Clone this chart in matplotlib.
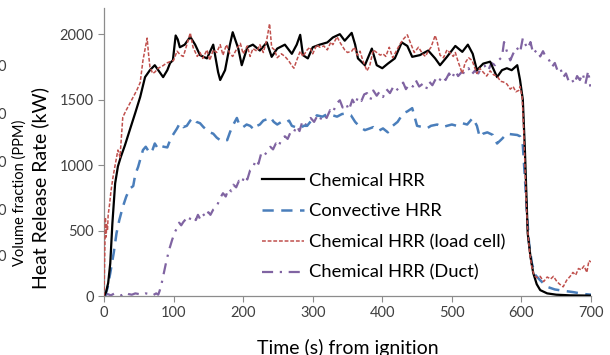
import matplotlib
matplotlib.use('Agg')
import matplotlib.pyplot as plt

# Chemical HRR (black)
t_chem = [0, 3, 6, 9, 12, 16, 20, 24, 30, 37, 45, 52, 59, 66, 73, 80, 85, 91, 95, 99,
          103, 106, 109, 116, 124, 131, 138, 148, 157, 164, 167, 174, 181, 185, 193, 198,
          206, 214, 224, 234, 241, 249, 260, 270, 277, 282, 286, 293, 300, 310, 321, 329,
          339, 346, 356, 361, 365, 375, 385, 392, 400, 408, 418, 428, 436, 443, 454, 466,
          476, 483, 493, 505, 515, 523, 530, 536, 545, 555, 565, 572, 579, 586, 594, 598,
          602, 605, 609, 613, 617, 622, 627, 637, 650, 670, 700]
hrr_chem = [0, 30, 100, 250, 550, 860, 990, 1060, 1150, 1267, 1400, 1520, 1672, 1725, 1763, 1710, 1672, 1725, 1780, 1800,
            1990, 1960, 1900, 1920, 1980, 1920, 1840, 1815, 1920, 1710, 1650, 1725, 1920, 2015, 1890, 1763,
            1900, 1920, 1875, 1937, 1827, 1890, 1920, 1850, 1920, 1995, 1840, 1815, 1900, 1920, 1937, 1975,
            2000, 1950, 2010, 1920, 1815, 1763, 1890, 1763, 1740, 1775, 1815, 1937, 1910, 1827, 1840, 1875,
            1815, 1763, 1827, 1910, 1865, 1920, 1850, 1725, 1775, 1790, 1672, 1725, 1740, 1725, 1763, 1650,
            1500, 1115, 480, 300, 175, 90, 45, 20, 10, 5, 3]

# Convective HRR (blue)
t_conv = [0, 2, 5, 9, 14, 18, 22, 27, 32, 37, 42, 45, 49, 53, 56, 60, 66, 70, 73, 77, 80, 86, 91,
          95, 99, 105, 109, 114, 119, 124, 128, 133, 138, 143, 148, 152, 157, 162, 167, 172, 177,
          181, 185, 191, 195, 200, 205, 210, 216, 220, 224, 229, 234, 239, 244, 249, 255, 260, 266,
          270, 275, 282, 287, 292, 298, 306, 314, 321, 329, 335, 342, 349, 355, 361, 368, 375, 382,
          387, 394, 401, 408, 415, 422, 430, 436, 443, 450, 458, 464, 470, 479, 487, 493, 500, 507,
          515, 522, 530, 536, 540, 545, 551, 559, 565, 572, 579, 586, 594, 598, 602, 605, 608, 611,
          615, 620, 627, 637, 648, 660, 674, 690, 700]
hrr_conv = [0, 10, 60, 175, 330, 480, 580, 680, 760, 820, 840, 930, 985, 1060, 1115, 1140, 1090, 1120, 1165, 1130, 1150, 1140, 1135,
            1190, 1230, 1280, 1320, 1290, 1300, 1340, 1360, 1330, 1320, 1290, 1267, 1250, 1240, 1210, 1190, 1200, 1190,
            1250, 1300, 1360, 1300, 1290, 1310, 1300, 1270, 1300, 1310, 1340, 1350, 1366, 1330, 1310, 1330, 1320, 1340,
            1300, 1290, 1280, 1300, 1300, 1340, 1380, 1370, 1390, 1380, 1370, 1390, 1395, 1380, 1330, 1290, 1267, 1280,
            1290, 1260, 1280, 1250, 1300, 1330, 1395, 1410, 1435, 1300, 1290, 1280, 1300, 1310, 1290, 1300, 1310, 1300,
            1320, 1310, 1360, 1300, 1215, 1240, 1250, 1230, 1165, 1200, 1240, 1235, 1230, 1220, 1150, 900, 620, 400,
            250, 160, 120, 70, 50, 40, 30, 15, 10]

# Chemical HRR from load cell (red)
t_load = [0, 1, 2, 3, 4, 5, 6, 8, 10, 13, 16, 20, 23, 27, 32, 37, 42, 47, 52, 56, 62, 64, 66, 70, 73, 78,
          85, 90, 95, 100, 105, 110, 114, 118, 124, 128, 134, 138, 142, 148, 152, 157, 162, 167, 171,
          176, 181, 185, 190, 196, 200, 206, 210, 214, 220, 224, 229, 234, 238, 241, 245, 249, 255,
          260, 265, 270, 273, 277, 282, 286, 292, 296, 300, 306, 310, 316, 321, 326, 329, 335, 340,
          346, 350, 356, 360, 364, 368, 372, 378, 382, 387, 392, 397, 401, 405, 410, 415, 418, 425,
          430, 436, 440, 446, 452, 458, 462, 466, 470, 476, 479, 483, 488, 493, 497, 502, 505, 509,
          515, 519, 524, 529, 536, 540, 545, 550, 555, 560, 565, 570, 574, 579, 584, 588, 592, 596,
          598, 601, 603, 605, 607, 609, 612, 615, 618, 622, 627, 632, 637, 642, 646, 651, 655, 660,
          665, 670, 674, 678, 682, 686, 690, 694, 697, 700]
hrr_load = [0, 300, 600, 450, 550, 500, 620, 700, 800, 910, 1000, 1115, 1060, 1366, 1420, 1470, 1520, 1570, 1630, 1800, 1970, 1850, 1750, 1700, 1710, 1740,
            1760, 1780, 1790, 1800, 1870, 1840, 1830, 1900, 2010, 1900, 1830, 1860, 1815, 1880, 1800, 1880, 1860, 1920, 1840,
            1920, 1850, 1830, 1880, 1930, 1850, 1910, 1830, 1890, 1870, 1920, 1860, 1960, 2080, 1900, 1880, 1820, 1850,
            1830, 1800, 1760, 1740, 1800, 1870, 1830, 1880, 1900, 1850, 1920, 1900, 1910, 1880, 1940, 1920, 1980, 1930,
            1880, 1860, 1870, 1900, 1840, 1870, 1800, 1720, 1760, 1880, 1860, 1840, 1850, 1830, 1900, 1820, 1850, 1920,
            1960, 1995, 1940, 1860, 1900, 1850, 1830, 1870, 1900, 1990, 1940, 1840, 1820, 1880, 1860, 1830, 1860, 1790,
            1700, 1780, 1820, 1800, 1700, 1740, 1710, 1680, 1720, 1690, 1680, 1640, 1635, 1620, 1580, 1600, 1560, 1570,
            1600, 1520, 1300, 1000, 700, 500, 320, 220, 160, 140, 150, 110, 145, 130, 150, 110, 90, 70,
            120, 150, 180, 160, 210, 200, 230, 180, 270, 260]

# Chemical HRR from duct (purple)
t_duct = [0, 5, 10, 15, 20, 25, 30, 35, 40, 45, 50, 55, 60, 65, 70, 75, 78, 80, 83, 87, 90, 94, 98,
          102, 105, 108, 111, 114, 118, 122, 125, 128, 132, 135, 138, 142, 146, 150, 153, 157, 162,
          166, 171, 175, 179, 183, 186, 190, 194, 198, 202, 206, 210, 214, 218, 222, 226, 230, 234,
          239, 243, 247, 251, 255, 260, 264, 268, 272, 277, 281, 285, 289, 293, 297, 302, 306, 310,
          315, 320, 325, 329, 334, 339, 343, 348, 352, 357, 361, 365, 370, 374, 378, 383, 387, 392,
          396, 401, 406, 411, 416, 420, 425, 430, 434, 439, 444, 448, 453, 458, 463, 467, 472, 477,
          481, 486, 491, 496, 500, 505, 509, 514, 519, 524, 528, 533, 538, 542, 547, 552, 557, 562,
          567, 572, 575, 579, 584, 588, 593, 598, 602, 606, 609, 613, 617, 622, 627, 631, 635, 640,
          644, 648, 652, 656, 660, 664, 668, 672, 676, 680, 684, 688, 692, 696, 699]
hrr_duct = [0, 15, 5, 20, 10, 5, 25, 15, 10, 20, 15, 10, 20, 15, 5, 20, 10, 40, 100, 200, 275, 360, 430,
            490, 520, 560, 540, 565, 590, 570, 610, 600, 580, 620, 590, 630, 600, 640, 620, 660, 680,
            740, 785, 760, 820, 800, 850, 830, 880, 860, 920, 890, 960, 975, 1040, 1010, 1090, 1070, 1100,
            1140, 1120, 1165, 1140, 1200, 1220, 1200, 1250, 1240, 1300, 1260, 1330, 1300, 1340, 1360, 1330, 1370, 1340,
            1390, 1360, 1420, 1400, 1470, 1495, 1440, 1470, 1420, 1500, 1460, 1520, 1490, 1540, 1550, 1500, 1570, 1530,
            1560, 1520, 1580, 1550, 1600, 1570, 1595, 1630, 1580, 1620, 1600, 1650, 1600, 1620, 1580, 1640, 1610, 1660,
            1635, 1680, 1650, 1700, 1660, 1720, 1680, 1710, 1700, 1740, 1690, 1720, 1700, 1740, 1760, 1720, 1780, 1763,
            1800, 1825, 1940, 1870, 1800, 1850, 1900, 1860, 1970, 1920, 1890, 1940, 1850, 1880, 1830, 1870, 1825, 1800,
            1750, 1780, 1720, 1740, 1670, 1700, 1640, 1660, 1620, 1680, 1650, 1700, 1620, 1720, 1600]

x_ticks = [0, 100, 200, 300, 400, 500, 600, 700]
y_ticks = [0, 500, 1000, 1500, 2000]

plt.rcParams['font.family'] = ['Lato', 'DejaVu Sans']
tick_col = '#404040'
spine_col = '#8c8c8c'

fig = plt.figure(figsize=(6.1, 3.55), dpi=100)
ax = fig.add_axes([104 / 610, 1 - 296 / 355, 487 / 610, 288 / 355])

ax.plot(t_chem, hrr_chem, color='black', lw=1.6, label='Chemical HRR', zorder=4)
ax.plot(t_conv, hrr_conv, color='#4A7EBB', lw=1.8, dashes=(4.5, 3), label='Convective HRR', zorder=3)
ax.plot(t_load, hrr_load, color='#C0504D', lw=1.1, dashes=(2.5, 1.2), label='Chemical HRR (load cell)', zorder=5)
ax.plot(t_duct, hrr_duct, color='#8064A2', lw=1.6, dashes=(5, 3, 1, 3), label='Chemical HRR (Duct)', zorder=2)

ax.set_xlim(0, 700)
ax.set_ylim(0, 2200)
ax.set_xticks(x_ticks)
ax.set_yticks(y_ticks)
ax.tick_params(colors=spine_col, labelcolor=tick_col, labelsize=10.5, length=4, width=0.8)
for s in ['top', 'right']:
    ax.spines[s].set_visible(False)
for s in ['left', 'bottom']:
    ax.spines[s].set_color(spine_col)
    ax.spines[s].set_linewidth(0.9)

leg = ax.legend(loc='upper left', bbox_to_anchor=(0.305, 0.46), frameon=False, fontsize=13.2,
                handlelength=2.3, handletextpad=0.3, labelspacing=0.8, borderpad=0)
for txt in leg.get_texts():
    txt.set_color('black')

fig.text(40 / 610, 1 - 188 / 355, 'Heat Release Rate (kW)', rotation=90, ha='center', va='center',
         fontsize=14, color='black')
fig.text(20 / 610, 1 - 193 / 355, 'Volume fraction (PPM)', rotation=90, ha='center', va='center',
         fontsize=10.5, color='black')
fig.text(348 / 610, 1 - 348 / 355, 'Time (s) from ignition', ha='center', va='center',
         fontsize=14, color='black')
for yp in [67, 115, 163, 211, 257]:
    fig.text(6 / 610, 1 - yp / 355, '0', ha='right', va='center', fontsize=10.5, color=tick_col)

fig.savefig('out.png', dpi=100)
